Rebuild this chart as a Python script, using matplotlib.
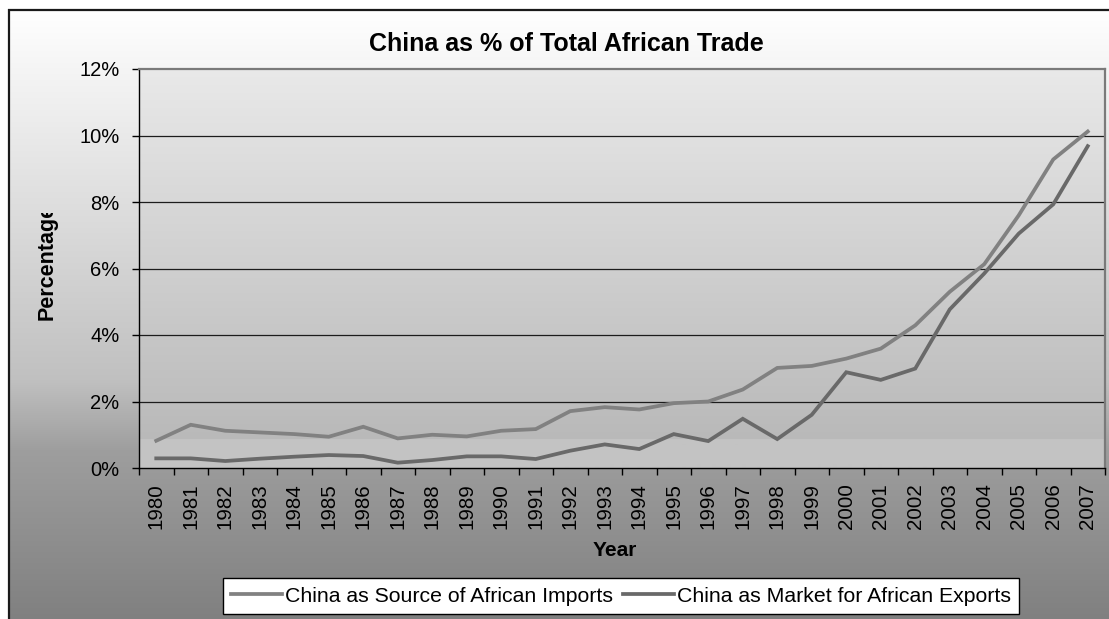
import numpy as np
import matplotlib
matplotlib.use("Agg")
import matplotlib.pyplot as plt
from matplotlib.transforms import Bbox, TransformedBbox
from matplotlib.ticker import FuncFormatter, FixedLocator

plt.rcParams['font.family'] = ['Liberation Sans', 'DejaVu Sans']

# ---- data -------------------------------------------------------------
years = [str(y) for y in range(1980, 2008)]
imports_share = [0.82, 1.30, 1.12, 1.07, 1.02, 0.94, 1.24, 0.89, 1.00, 0.95,
                 1.12, 1.17, 1.71, 1.83, 1.76, 1.95, 2.00, 2.36, 3.01, 3.07,
                 3.29, 3.59, 4.29, 5.30, 6.13, 7.60, 9.28, 10.12]
exports_share = [0.29, 0.29, 0.21, 0.28, 0.34, 0.39, 0.36, 0.16, 0.24, 0.35,
                 0.35, 0.27, 0.52, 0.71, 0.57, 1.02, 0.81, 1.48, 0.87, 1.60,
                 2.88, 2.65, 2.99, 4.77, 5.85, 7.05, 7.93, 9.68]
series_names = ["China as Source of African Imports",
                "China as Market for African Exports"]
y_ticks = [0, 2, 4, 6, 8, 10, 12]

W, H = 1109, 619
fig = plt.figure(figsize=(W / 100, H / 100), dpi=100)
fig.patch.set_facecolor("white")

# ---- chart-area background (vertical grey gradient) -----------------------
bg = fig.add_axes([0, 0, 1, 1], zorder=-10)
bg.set_axis_off()
rows = np.arange(H)
stops_y = [0, 9, 180, 380, 450, 619]
stops_v = [255, 255, 226, 192, 158, 128]
vals = np.interp(rows, stops_y, stops_v) / 255.0
grad = np.repeat(vals[:, None], 4, axis=1)
img = np.dstack([grad, grad, grad])
img[:9, :, :] = 1.0
bg.imshow(img, extent=[0, W, H, 0], aspect="auto", interpolation="bilinear")
bg.imshow(np.ones((2, 2, 3)), extent=[0, 8, H, 0], aspect="auto")
bg.set_xlim(0, W)
bg.set_ylim(H, 0)
bg.plot([8.5, 8.5], [9, H], color="#1a1a1a", lw=1.6, solid_capstyle="butt")
bg.plot([8, W], [9.5, 9.5], color="#1a1a1a", lw=1.6, solid_capstyle="butt")

# ---- plot area -----------------------------------------------------------
left, right, top, bottom = 139, 1105, 69, 468
ax = fig.add_axes([left / W, 1 - bottom / H, (right - left) / W, (bottom - top) / H])
ax.set_facecolor("none")

# plot-area gradient with a lighter band just above the baseline
pr = np.linspace(0, 1, 400)           # 0 = top, 1 = bottom
band_start = (440 - top) / (bottom - top)
pv = np.where(pr < band_start, 233 - (233 - 185) * pr / band_start, 195) / 255.0
pimg = np.dstack([pv[:, None]] * 3)
ax.imshow(pimg, extent=[0, 1, 0, 1], transform=ax.transAxes, aspect="auto",
          interpolation="bilinear", zorder=0)

x = np.arange(len(years))
for yv in y_ticks[1:-1]:
    ax.axhline(yv, color="#1c1c1c", lw=0.9, zorder=1)

ax.plot(x, imports_share, color="#818181", lw=2.7, zorder=3,
        solid_joinstyle="miter", label=series_names[0])
ax.plot(x, exports_share, color="#696969", lw=2.7, zorder=3,
        solid_joinstyle="miter", label=series_names[1])

ax.set_xlim(-0.5, len(years) - 0.5)
ax.set_ylim(0, 12)

ax.yaxis.set_major_locator(FixedLocator(y_ticks))
ax.yaxis.set_major_formatter(FuncFormatter(lambda v, p: f"{v:.0f}%"))
ax.set_xticks(np.arange(len(years) + 1) - 0.5, minor=False)
ax.set_xticklabels([])
ax.set_xticks(x, minor=True)
ax.set_xticklabels(years, minor=True, rotation=90)
ax.tick_params(axis="x", which="major", direction="out", length=5, width=1,
               color="#000000")
ax.tick_params(axis="x", which="minor", length=0, pad=11, labelsize=14.8)
ax.tick_params(axis="y", direction="out", length=5, width=1, color="#000000",
               pad=9, labelsize=14.5)

for side in ["top", "right"]:
    ax.spines[side].set_color("#7a7a7a")
    ax.spines[side].set_linewidth(1.6)
ax.spines["left"].set_color("#000000")
ax.spines["left"].set_linewidth(1.0)
ax.spines["bottom"].set_color("#000000")
ax.spines["bottom"].set_linewidth(1.0)

# ---- titles ----------------------------------------------------------------
fig.text(566 / W, 1 - 44 / H, "China as % of Total African Trade",
         ha="center", va="center", fontsize=18, fontweight="bold")
fig.text(615 / W, 1 - 551 / H, "Year", ha="center", va="center",
         fontsize=15, fontweight="bold")
# axis title sits in a box too short for it, so its last letter is cut off
ylab = fig.text(47 / W, 1 - 320 / H, "Percentage", ha="center", va="bottom",
                rotation=90, fontsize=15.5, fontweight="bold")
ylab.set_clip_box(TransformedBbox(Bbox([[0, 0], [1, 1 - 213 / H]]),
                                  fig.transFigure))
ylab.set_clip_on(True)

# ---- legend ----------------------------------------------------------------
leg = fig.legend(loc="center", bbox_to_anchor=(621 / W, 1 - 596 / H), ncol=2,
                 frameon=True, fancybox=False, fontsize=15.3, handlelength=2.4,
                 handletextpad=0.15, columnspacing=0.45, borderpad=0.4,
                 borderaxespad=0)
leg.get_frame().set_edgecolor("#000000")
leg.get_frame().set_linewidth(1.0)
leg.get_frame().set_facecolor("white")
leg.get_frame().set_alpha(1)

fig.savefig("out.png", dpi=100)
